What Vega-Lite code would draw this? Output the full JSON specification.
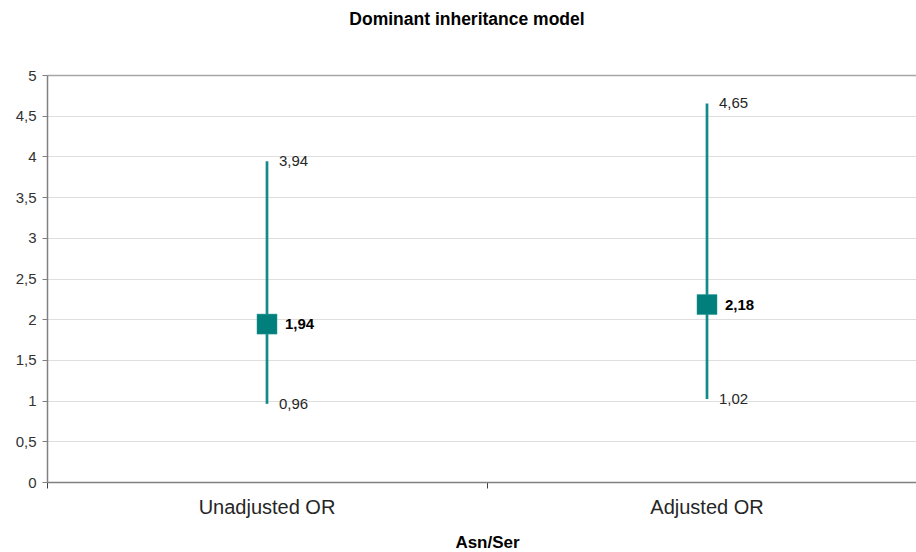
{
  "$schema": "https://vega.github.io/schema/vega-lite/v6.json",
  "width": 868,
  "height": 407,
  "padding": {"left": 15, "top": 10, "right": 0, "bottom": 0},
  "background": "white",
  "title": {"text": "Dominant inheritance model", "font": "Liberation Sans", "fontSize": 17.5, "fontWeight": "bold", "color": "#000000", "offset": 40, "dx": -14},
  "config": {
    "view": {"stroke": null},
    "locale": {"number": {"decimal": ",", "thousands": ".", "grouping": [3], "currency": ["", " €"]}}
  },
  "data": {"values": [
    {"model": "Unadjusted OR", "or": 1.94, "lo": 0.96, "hi": 3.94},
    {"model": "Adjusted OR", "or": 2.18, "lo": 1.02, "hi": 4.65}
  ]},
  "encoding": {
    "x": {
      "field": "model", "type": "nominal", "sort": null,
      "scale": {"range": [0, 880], "paddingInner": 0, "paddingOuter": 0},
      "axis": {
        "title": "Asn/Ser", "titleFont": "Liberation Sans", "titleFontSize": 17, "titleFontWeight": "bold", "titleColor": "#000000", "titlePadding": 17,
        "labelFont": "Liberation Sans", "labelFontSize": 20, "labelColor": "#262626", "labelPadding": 9, "labelAngle": 0,
        "domainColor": "#808080", "domainWidth": 1.5, "tickColor": "#404040", "tickSize": 6, "bandPosition": 0, "grid": false
      }
    }
  },
  "layer": [
    {
      "mark": {"type": "rule", "color": "#128a87", "strokeWidth": 2.7},
      "encoding": {
        "y": {"field": "lo", "type": "quantitative",
          "scale": {"domain": [0, 5], "nice": false},
          "axis": {"title": null, "values": [0, 0.5, 1, 1.5, 2, 2.5, 3, 3.5, 4, 4.5, 5], "format": "~g",
            "labelFont": "Liberation Sans", "labelFontSize": 15, "labelColor": "#333333", "labelPadding": 6,
            "domainColor": "#808080", "domainWidth": 1.5, "tickColor": "#808080", "tickSize": 5,
            "gridColor": {"condition": {"test": "datum.value == 5", "value": "#a6a6a6"}, "value": "#dedede"},
            "gridWidth": {"condition": {"test": "datum.value == 5", "value": 1.5}, "value": 1}}},
        "y2": {"field": "hi"}
      }
    },
    {
      "mark": {"type": "point", "shape": "square", "filled": true, "opacity": 1, "size": 400, "color": "#007f7c", "stroke": "#2a9a95", "strokeWidth": 0.5},
      "encoding": {"y": {"field": "or", "type": "quantitative"}}
    },
    {
      "mark": {"type": "text", "align": "left", "baseline": "middle", "dx": 18, "font": "Liberation Sans", "fontSize": 15, "fontWeight": "bold", "color": "#000000"},
      "encoding": {"y": {"field": "or", "type": "quantitative"}, "text": {"field": "or", "type": "quantitative", "format": ".2f"}}
    },
    {
      "mark": {"type": "text", "align": "left", "baseline": "middle", "dx": 12, "font": "Liberation Sans", "fontSize": 15, "color": "#262626"},
      "encoding": {"y": {"field": "hi", "type": "quantitative"}, "text": {"field": "hi", "type": "quantitative", "format": ".2f"}}
    },
    {
      "mark": {"type": "text", "align": "left", "baseline": "middle", "dx": 12, "font": "Liberation Sans", "fontSize": 15, "color": "#262626"},
      "encoding": {"y": {"field": "lo", "type": "quantitative"}, "text": {"field": "lo", "type": "quantitative", "format": ".2f"}}
    }
  ]
}
